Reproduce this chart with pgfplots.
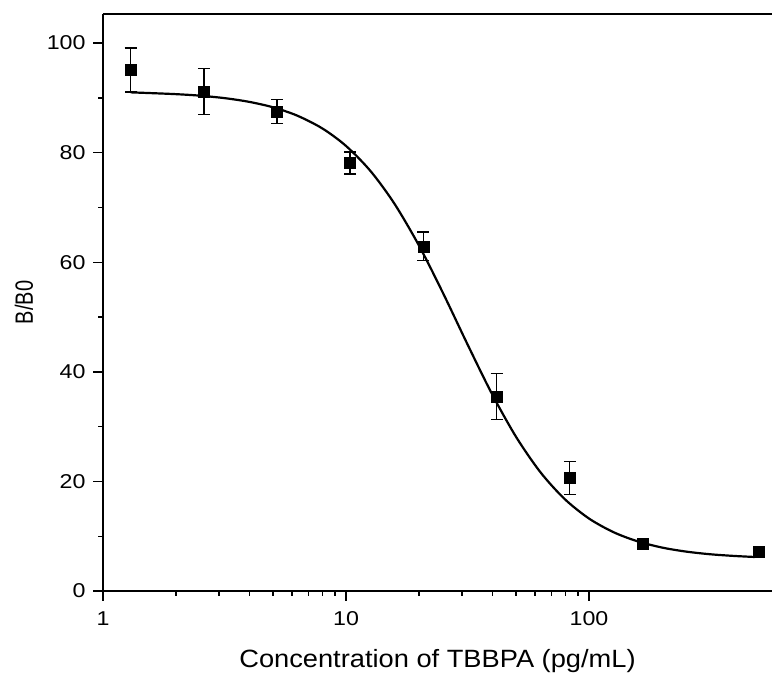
\documentclass[border=0pt]{standalone}
\usepackage{fontspec}
\setmainfont{Liberation Sans}
\usepackage{graphicx}
\usepackage{pgfplots}
\pgfplotsset{compat=1.18}

% the reference is a little stretched sideways
\newcommand\sx[1]{\scalebox{1.16}[1]{#1}}

\begin{document}
\begin{tikzpicture}
	\begin{axis}[
		scale only axis,
		width=669pt, height=577pt,
		xmode=log,
		xmin=1, xmax=566,
		ymin=0, ymax=105.3,
		axis x line=box, axis y line=left,
		axis line style={-, line width=1.6pt},
		xtick pos=left, ytick pos=left,
		tick align=outside,
		major tick length=10pt, minor tick length=5pt,
		every tick/.style={black, line width=1.4pt},
		xtick={1,10,100},
		xticklabels={\sx{1},\sx{10},\sx{100}},
		ytick={0,20,40,60,80,100},
		yticklabels={\sx{0},\sx{20},\sx{40},\sx{60},\sx{80},\sx{100}},
		minor ytick={10,30,50,70,90},
		x tick label style={font=\fontsize{20}{24}\selectfont, yshift=-7pt},
		y tick label style={font=\fontsize{20}{24}\selectfont, xshift=-4pt},
		xlabel={\scalebox{1.09}[1]{Concentration of TBBPA (pg/mL)}},
		xlabel style={font=\fontsize{25}{30}\selectfont, at={(axis description cs:0.5,0)}, anchor=base, yshift=-76pt},
		ylabel={\scalebox{1}[1.25]{B/B0}},
		ylabel style={font=\fontsize{20}{24}\selectfont, at={(axis description cs:-0.118,0.5)}, anchor=center},
		clip=false,
	]

	% fitted curve
	\addplot[black, line width=2.2pt, smooth]
	  table {
	     1.3   91.0
	     1.6   90.85
	     2.0   90.67
	     2.5   90.40
	     3.2   89.92
	     4.0   89.26
	     5.0   88.28
	     6.3   86.75
	     8.0   84.40
	    10.0   81.22
	    12.6   76.66
	    15.8   70.72
	    20.0   62.98
	    25.1   54.32
	    31.6   45.03
	    39.8   36.03
	    50.1   28.12
	    63.1   21.67
	    79.4   16.78
	   100     13.22
	   126     10.74
	   158      9.08
	   200      7.92
	   251      7.19
	   316      6.70
	   398      6.39
	   480      6.21
	  };

	% measured points with error bars
	\addplot[black, only marks, mark=square*, mark size=5.5pt,
		error bars/.cd, y dir=both, y explicit,
		error bar style={line width=1.4pt},
		error mark options={rotate=90, mark size=6pt, line width=1.4pt}]
	  table[x=x, y=y, y error=e] {
	     x      y     e
	     1.3   95.1   4.0
	     2.6   91.2   4.2
	     5.2   87.5   2.2
	    10.4   78.1   2.0
	    20.8   62.9   2.6
	    41.7   35.5   4.2
	    83.3   20.6   3.0
	   166.7    8.6   0.5
	   500      7.1   0.6
	  };

	\coordinate (sw) at (rel axis cs:0,0);
	\coordinate (ne) at (rel axis cs:1,1);
	\end{axis}
	\pgfresetboundingbox
	\path ([shift={(-103pt,-84pt)}]sw) rectangle ([shift={(0pt,14pt)}]ne);
\end{tikzpicture}
\end{document}
